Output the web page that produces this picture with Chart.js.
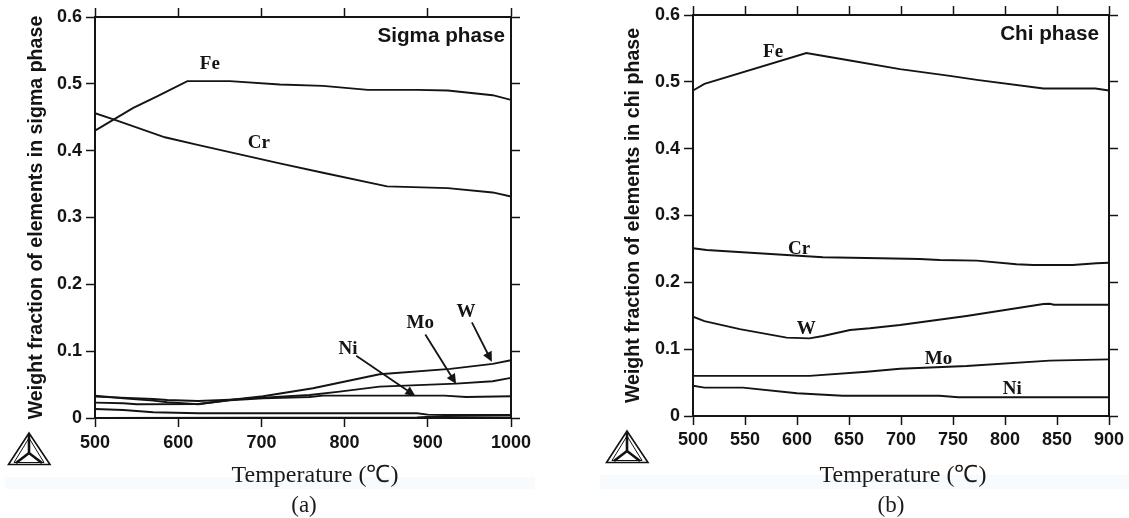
<!DOCTYPE html>
<html>
<head>
<meta charset="utf-8">
<script src="https://cdn.jsdelivr.net/npm/chart.js@4/dist/chart.umd.min.js"></script>
<style>
  html, body { margin: 0; padding: 0; background: #fff; overflow: hidden; }
  canvas { position: absolute; top: 0; }
  #graficoA { left: 0; }
  #graficoB { left: 585px; }
  .band { position: absolute; background: #f7fbfd; }
  .serif { position: absolute; transform: translate(-50%, -50%); white-space: nowrap; color: #1a1a1a;
           font-family: "Liberation Serif", serif; }
  .xt { font-size: 24px; top: 472px; }
  .cap { font-size: 23px; top: 505px; }
  svg { position: absolute; }
</style>
</head>
<body>
<div class="band" style="left:5px;top:477px;width:530px;height:12px"></div>
<div class="band" style="left:600px;top:475px;width:529px;height:14px"></div>
<canvas id="graficoA" width="560" height="518"></canvas>
<canvas id="graficoB" width="544" height="518"></canvas>
<div class="serif xt" style="left:315px">Temperature (℃)</div>
<div class="serif xt" style="left:903px">Temperature (℃)</div>
<div class="serif cap" style="left:304px">(a)</div>
<div class="serif cap" style="left:891px">(b)</div>

<svg style="left:6px;top:431px" width="48" height="36" viewBox="0 0 48 36" id="logoA"></svg>
<svg style="left:604px;top:429px" width="48" height="36" viewBox="0 0 48 36" id="logoB"></svg>

<script>
// (a) sigma phase
const feTempA = [500, 546, 574, 611, 662, 722, 774, 828, 887, 924, 978, 1000];
const feValA = [0.430, 0.464, 0.481, 0.504, 0.504, 0.499, 0.497, 0.491, 0.491, 0.490, 0.483, 0.476];
const crTempA = [500, 524, 584, 626, 722, 774, 851, 924, 978, 1000];
const crValA = [0.456, 0.446, 0.420, 0.408, 0.381, 0.367, 0.3465, 0.344, 0.3375, 0.3315];
const wTempA = [500, 534, 570, 587, 624, 662, 702, 762, 842, 927, 978, 1000];
const wValA = [0.0335, 0.0295, 0.026, 0.0235, 0.0205, 0.027, 0.0325, 0.0445, 0.0655, 0.0735, 0.081, 0.0864];
const moTempA = [500, 570, 587, 624, 662, 702, 758, 794, 842, 934, 978, 1000];
const moValA = [0.032, 0.0285, 0.027, 0.0255, 0.0275, 0.0305, 0.0345, 0.0395, 0.0470, 0.0515, 0.055, 0.060];
const niTempA = [500, 534, 550, 624, 662, 702, 758, 774, 920, 946, 1000];
const niValA = [0.023, 0.022, 0.0205, 0.021, 0.0265, 0.0295, 0.0315, 0.0335, 0.0335, 0.0315, 0.0325];
const low1TempA = [500, 534, 570, 624, 887, 900, 1000];
const low1ValA = [0.0135, 0.012, 0.0085, 0.007, 0.007, 0.005, 0.0045];
const low2TempA = [500, 700, 887, 920, 1000];
const low2ValA = [0.0002, 0.0005, 0.001, 0.003, 0.0035];

const labelNamesA = ['Fe', 'Cr', 'Ni', 'Mo', 'W'];
const labelTempsA = [638, 697, 804, 891, 946];
const labelValsA = [0.529, 0.412, 0.103, 0.142, 0.159];
const arrowFromTA = [814, 897, 953];
const arrowFromVA = [0.093, 0.125, 0.143];
const arrowToTA = [885, 934, 977];
const arrowToVA = [0.033, 0.051, 0.084];

// (b) chi phase
const feTempB = [500, 511, 609, 651, 699, 747, 773, 837, 887, 900];
const feValB = [0.487, 0.497, 0.543, 0.532, 0.519, 0.509, 0.503, 0.490, 0.490, 0.487];
const crTempB = [500, 513, 590, 625, 680, 718, 737, 773, 811, 827, 865, 888, 900];
const crValB = [0.251, 0.2484, 0.241, 0.2375, 0.236, 0.235, 0.2334, 0.2325, 0.227, 0.226, 0.226, 0.2285, 0.2294];
const wTempB = [500, 511, 545, 590, 612, 625, 651, 670, 699, 763, 837, 843, 847, 900];
const wValB = [0.1486, 0.142, 0.130, 0.1172, 0.1162, 0.1197, 0.1287, 0.1312, 0.1362, 0.1496, 0.1676, 0.168, 0.1665, 0.1665];
const moTempB = [500, 612, 667, 699, 763, 843, 900];
const moValB = [0.060, 0.060, 0.0663, 0.0708, 0.0748, 0.0828, 0.0848];
const niTempB = [500, 511, 548, 600, 644, 737, 755, 900];
const niValB = [0.0453, 0.0424, 0.0424, 0.034, 0.0304, 0.0304, 0.028, 0.028];

const labelNamesB = ['Fe', 'Cr', 'W', 'Mo', 'Ni'];
const labelTempsB = [577, 602, 609, 736, 807];
const labelValsB = [0.544, 0.25, 0.13, 0.0858, 0.0404];

const yTicks = [0, 0.1, 0.2, 0.3, 0.4, 0.5, 0.6];

const ink = '#141414';
const sansBold = '"Liberation Sans", Arial, sans-serif';

function pts(xs, ys) {
  return xs.map((x, i) => ({ x: x, y: ys[i] }));
}

function serie(name, xs, ys) {
  return { label: name, data: pts(xs, ys), borderColor: ink, borderWidth: 1.9, pointRadius: 0, tension: 0, fill: false };
}

// element labels, in-plot title and the little leader arrows
const notasPlugin = {
  id: 'notas',
  afterDatasetsDraw(chart, args, o) {
    const c = chart.ctx, sx = chart.scales.x, sy = chart.scales.y;
    c.save();
    c.fillStyle = ink;
    c.strokeStyle = ink;
    c.textAlign = 'center';
    c.textBaseline = 'middle';
    c.font = 'bold 19px "Liberation Serif", serif';
    o.names.forEach((n, i) => {
      c.fillText(n, sx.getPixelForValue(o.temps[i]), sy.getPixelForValue(o.vals[i]));
    });
    c.font = 'bold ' + o.titleSize + 'px ' + sansBold;
    c.textAlign = 'right';
    c.fillText(o.title, chart.chartArea.right - o.titleGap, chart.chartArea.top + 19);
    (o.fromT || []).forEach((t, i) => {
      const x0 = sx.getPixelForValue(t), y0 = sy.getPixelForValue(o.fromV[i]);
      const x1 = sx.getPixelForValue(o.toT[i]), y1 = sy.getPixelForValue(o.toV[i]);
      const ang = Math.atan2(y1 - y0, x1 - x0);
      c.lineWidth = 1.8;
      c.beginPath();
      c.moveTo(x0, y0);
      c.lineTo(x1 - 6 * Math.cos(ang), y1 - 6 * Math.sin(ang));
      c.stroke();
      c.beginPath();
      c.moveTo(x1, y1);
      c.lineTo(x1 - 11 * Math.cos(ang - 0.45), y1 - 11 * Math.sin(ang - 0.45));
      c.lineTo(x1 - 11 * Math.cos(ang + 0.45), y1 - 11 * Math.sin(ang + 0.45));
      c.closePath();
      c.fill();
    });
    c.restore();
  }
};

function grafico(id, cfg) {
  const frame = { color: ink, width: 2 };
  const tickGrid = { drawOnChartArea: false, tickColor: ink, tickWidth: 1.5, tickLength: 9 };
  const tickFont = { family: sansBold, weight: 'bold', size: 18 };
  return new Chart(document.getElementById(id), {
    type: 'line',
    data: { datasets: cfg.datasets },
    plugins: [notasPlugin],
    options: {
      responsive: false,
      animation: false,
      events: [],
      parsing: false,
      layout: { padding: 0 },
      plugins: { legend: { display: false }, tooltip: { enabled: false }, notas: cfg.notas },
      scales: {
        x: {
          type: 'linear', position: 'bottom', min: cfg.xMin, max: cfg.xMax,
          border: frame, grid: tickGrid,
          afterBuildTicks: s => { s.ticks = cfg.xTicks.map(v => ({ value: v })); },
          ticks: { color: ink, font: tickFont, padding: cfg.xPad, maxRotation: 0, autoSkip: false, callback: v => String(v) },
          afterFit: s => { s.height = 518 - cfg.bottom; }
        },
        x2: {
          type: 'linear', axis: 'x', position: 'top', min: cfg.xMin, max: cfg.xMax,
          border: frame, grid: tickGrid,
          afterBuildTicks: s => { s.ticks = cfg.xTicks.map(v => ({ value: v })); },
          ticks: { display: false },
          afterFit: s => { s.height = cfg.top; }
        },
        y: {
          type: 'linear', position: 'left', min: 0, max: 0.6,
          border: frame, grid: tickGrid,
          afterBuildTicks: s => { s.ticks = yTicks.map(v => ({ value: v })); },
          ticks: { color: ink, font: tickFont, padding: 4, callback: v => (v === 0 ? '0' : v.toFixed(1)) },
          title: {
            display: true, text: cfg.yTitle, color: ink,
            font: { family: sansBold, weight: 'bold', size: 19.6 },
            padding: { top: cfg.yTitleGap, bottom: 0 }
          },
          afterFit: s => { s.width = cfg.left; }
        },
        y2: {
          type: 'linear', axis: 'y', position: 'right', min: 0, max: 0.6,
          border: frame, grid: tickGrid,
          afterBuildTicks: s => { s.ticks = yTicks.map(v => ({ value: v })); },
          ticks: { display: false },
          afterFit: s => { s.width = cfg.width - cfg.right; }
        }
      }
    }
  });
}

grafico('graficoA', {
  width: 560, left: 95, right: 511, top: 17, bottom: 418, xPad: 5,
  xMin: 500, xMax: 1000, xTicks: [500, 600, 700, 800, 900, 1000],
  yTitle: 'Weight fraction of elements in sigma phase', yTitleGap: 25,
  datasets: [
    serie('Fe', feTempA, feValA), serie('Cr', crTempA, crValA), serie('W', wTempA, wValA),
    serie('Mo', moTempA, moValA), serie('Ni', niTempA, niValA),
    serie('Other 1', low1TempA, low1ValA), serie('Other 2', low2TempA, low2ValA)
  ],
  notas: {
    names: labelNamesA, temps: labelTempsA, vals: labelValsA,
    title: 'Sigma phase', titleSize: 20.7, titleGap: 6,
    fromT: arrowFromTA, fromV: arrowFromVA, toT: arrowToTA, toV: arrowToVA
  }
});

grafico('graficoB', {
  width: 544, left: 108, right: 524, top: 15, bottom: 416, xPad: 4,
  xMin: 500, xMax: 900, xTicks: [500, 550, 600, 650, 700, 750, 800, 850, 900],
  yTitle: 'Weight fraction of elements in chi phase', yTitleGap: 37,
  datasets: [
    serie('Fe', feTempB, feValB), serie('Cr', crTempB, crValB), serie('W', wTempB, wValB),
    serie('Mo', moTempB, moValB), serie('Ni', niTempB, niValB)
  ],
  notas: {
    names: labelNamesB, temps: labelTempsB, vals: labelValsB,
    title: 'Chi phase', titleSize: 20.7, titleGap: 10
  }
});

// Thermo-Calc style triangle mark
const logo = '<g fill="none" stroke="#111" stroke-linejoin="miter">' +
  '<polygon points="23,2 2.5,33.5 44,33.5" stroke-width="1.6"/>' +
  '<polygon points="23,7 8,31.5 38,31.5" stroke-width="1"/>' +
  '<path d="M23,22 L23,4 M23,22 L10,32 M23,22 L36,32" stroke-width="2.6"/>' +
  '</g>';
document.getElementById('logoA').innerHTML = logo;
document.getElementById('logoB').innerHTML = logo;
</script>
</body>
</html>
